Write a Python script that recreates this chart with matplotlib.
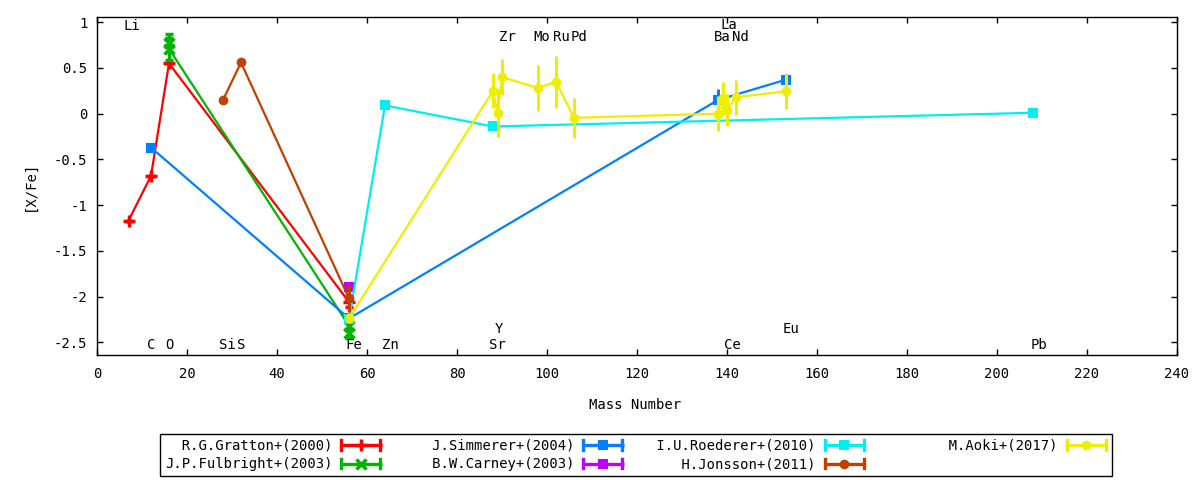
import matplotlib
matplotlib.use('Agg')
import matplotlib.pyplot as plt
from matplotlib.lines import Line2D
from matplotlib.legend_handler import HandlerBase
from matplotlib.ticker import FixedLocator, FuncFormatter

plt.rcParams['font.family'] = ['DejaVu Sans Mono']
plt.rcParams['font.size'] = 10
plt.rcParams['axes.unicode_minus'] = False

# ---------------- data ----------------
gratton_x = [7, 12, 16, 56]
gratton_y = [-1.17, -0.68, 0.55, -2.06]
gratton_err = [0.0, 0.0, 0.0, 0.05]

fulbright_x = [16, 16, 56, 56]
fulbright_y = [0.77, 0.71, -2.32, -2.40]
fulbright_err = [0.10, 0.12, 0.05, 0.05]

simmerer_x = [12, 56, 138, 153]
simmerer_y = [-0.37, -2.24, 0.15, 0.37]
simmerer_err = [0.0, 0.0, 0.12, 0.06]

carney_x = [56]
carney_y = [-1.90]
carney_err = [0.0]

roederer_x = [56, 64, 88, 208]
roederer_y = [-2.25, 0.09, -0.14, 0.01]
roederer_err = [0.0, 0.0, 0.0, 0.0]

jonsson_x = [28, 32, 56]
jonsson_y = [0.15, 0.56, -2.02]
jonsson_err = [0.0, 0.0, 0.145]

aoki_x = [56, 88, 89, 90, 98, 102, 106, 138, 139, 140, 142, 153]
aoki_y = [-2.24, 0.25, 0.01, 0.40, 0.28, 0.35, -0.045, 0.00, 0.17, 0.04, 0.18, 0.245]
aoki_err = [0.0, 0.19, 0.26, 0.20, 0.25, 0.285, 0.22, 0.19, 0.18, 0.18, 0.19, 0.19]

series_labels = ['R.G.Gratton+(2000)', 'J.P.Fulbright+(2003)', 'J.Simmerer+(2004)',
                 'B.W.Carney+(2003)', 'I.U.Roederer+(2010)', 'H.Jonsson+(2011)',
                 'M.Aoki+(2017)']

# element name annotations (name, x, y)
elem_names = ['Li', 'C', 'O', 'Si', 'S', 'Fe', 'Zn', 'Sr', 'Y', 'Zr', 'Mo', 'Ru', 'Pd',
              'La', 'Ba', 'Nd', 'Ce', 'Eu', 'Pb']
elem_x = [7.8, 12.0, 16.0, 28.9, 32.0, 57.1, 65.1, 88.9, 89.3, 91.1, 98.9, 103.1, 107.1,
          140.4, 138.9, 142.9, 141.1, 154.2, 209.3]
elem_y = [0.96, -2.53, -2.53, -2.53, -2.53, -2.53, -2.53, -2.53, -2.36, 0.84, 0.84, 0.84, 0.84,
          0.965, 0.84, 0.84, -2.53, -2.36, -2.53]

x_ticks = [0, 20, 40, 60, 80, 100, 120, 140, 160, 180, 200, 220, 240]
y_ticks = [-2.5, -2, -1.5, -1, -0.5, 0, 0.5, 1]

# ---------------- styles ----------------
styles = [
    dict(color='#ff0000', marker='+', ms=9, mew=2.5),
    dict(color='#00b400', marker='x', ms=7, mew=2.5),
    dict(color='#0080ff', marker='s', ms=7, mew=0),
    dict(color='#c000ff', marker='s', ms=7, mew=0),
    dict(color='#00eeee', marker='s', ms=7, mew=0),
    dict(color='#c04000', marker='o', ms=7, mew=0),
    dict(color='#eeee00', marker='o', ms=7, mew=0),
]
datasets = [
    (gratton_x, gratton_y, gratton_err),
    (fulbright_x, fulbright_y, fulbright_err),
    (simmerer_x, simmerer_y, simmerer_err),
    (carney_x, carney_y, carney_err),
    (roederer_x, roederer_y, roederer_err),
    (jonsson_x, jonsson_y, jonsson_err),
    (aoki_x, aoki_y, aoki_err),
]

fig = plt.figure(figsize=(12, 4.8), dpi=100)
ax = fig.add_axes([97/1200, 1-354.7/480, 1080/1200, 337.4/480])

for i, ((xs, ys, es), st) in enumerate(zip(datasets, styles)):
    ax.errorbar(xs, ys, yerr=es, color=st['color'], marker=st['marker'], ms=st['ms'],
                mew=st['mew'], mec=st['color'], mfc=st['color'], lw=1.6,
                elinewidth=2.2, capsize=3, capthick=2.2, zorder=2 + i, clip_on=False)

for name, ex, ey in zip(elem_names, elem_x, elem_y):
    ax.text(ex, ey, name, ha='center', va='center', fontsize=10, zorder=20)

ax.set_xlim(0, 240)
ax.set_ylim(-2.636, 1.054)
ax.xaxis.set_major_locator(FixedLocator(x_ticks))
ax.yaxis.set_major_locator(FixedLocator(y_ticks))
ax.xaxis.set_major_formatter(FuncFormatter(lambda v, p: '%g' % v))
ax.yaxis.set_major_formatter(FuncFormatter(lambda v, p: '%g' % v))
ax.tick_params(direction='in', top=True, right=True, length=4, width=1, labelsize=10)
ax.tick_params(axis='x', pad=9)
ax.tick_params(axis='y', pad=7)
for s in ax.spines.values():
    s.set_linewidth(1)

ax.set_xlabel('Mass Number')
ax.xaxis.set_label_coords(0.498, -0.128)
ax.set_ylabel('[X/Fe]')
ax.yaxis.set_label_coords(-0.056, 0.5)


class GnuHandler(HandlerBase):
    def create_artists(self, legend, orig_handle, xdescent, ydescent, width, height,
                       fontsize, trans):
        c = orig_handle.get_color()
        m = orig_handle.get_marker()
        y = height / 2 - ydescent
        x0 = -xdescent
        x1 = x0 + width
        cap = 3.5
        arts = [
            Line2D([x0, x1], [y, y], color=c, lw=2.4, solid_capstyle='butt'),
            Line2D([x0 + 1, x0 + 1], [y - cap, y + cap], color=c, lw=2.4),
            Line2D([x1 - 1, x1 - 1], [y - cap, y + cap], color=c, lw=2.4),
            Line2D([(x0 + x1) / 2], [y], marker=m, color=c, mfc=c, mec=c,
                   ms=orig_handle.get_markersize(), mew=orig_handle.get_markeredgewidth(),
                   lw=0),
        ]
        for a in arts:
            a.set_transform(trans)
        return arts


handles = [Line2D([], [], color=st['color'], marker=st['marker'], ms=st['ms'],
                  mew=st['mew']) for st in styles]
labels = [l.rjust(20) for l in series_labels]
leg = fig.legend(handles, labels, loc='center', bbox_to_anchor=(636/1200, 1-455/480),
                 ncol=4, markerfirst=False, handlelength=3.0, handletextpad=0.55,
                 columnspacing=1.8, labelspacing=0.35, borderpad=0.35,
                 fancybox=False, edgecolor='black', framealpha=1, fontsize=10,
                 handler_map={Line2D: GnuHandler()})
leg.get_frame().set_linewidth(1)

fig.savefig('out.png', dpi=100)
